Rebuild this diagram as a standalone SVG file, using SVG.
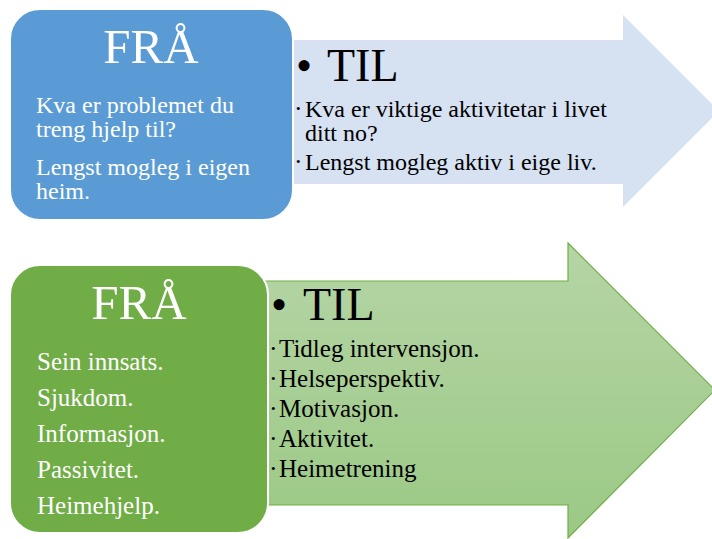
<svg xmlns="http://www.w3.org/2000/svg" width="712" height="539" viewBox="0 0 712 539">
<defs>
<linearGradient id="gg" x1="0" y1="0" x2="0" y2="1">
<stop offset="0" stop-color="#B5D5A5"/>
<stop offset="1" stop-color="#9BC985"/>
</linearGradient>
<style>
text{font-family:"Liberation Serif","Times New Roman",serif}
.hd{font-size:49px;fill:#fff;text-anchor:middle}
.til{font-size:46px;fill:#000}
.w{font-size:25px;fill:#fff}
.b{font-size:25px;fill:#000}
.t{font-size:24px}
.bl{font-size:13px}
</style>
</defs>
<rect width="712" height="539" fill="#fff"/>
<g id="arrow-top">
<polygon points="288,40 623,40 623,15 719,111 623,207 623,184 288,184" fill="#D6E1F2"/>
<text class="til" y="81"><tspan x="296">•</tspan><tspan x="327">TIL</tspan></text>
<text class="b t" y="117"><tspan class="bl" x="296" dy="-4">•</tspan><tspan x="305" dy="4">Kva er viktige aktivitetar i livet</tspan></text>
<text class="b t" x="305" y="141">ditt no?</text>
<text class="b t" y="170"><tspan class="bl" x="296" dy="-4">•</tspan><tspan x="305" dy="4">Lengst mogleg aktiv i eige liv.</tspan></text>
</g>
<g id="box-top">
<rect x="10" y="9" width="283" height="211" rx="30" ry="30" fill="#5B9BD5" stroke="#fff" stroke-width="2"/>
<text class="hd" x="151" y="63">FRÅ</text>
<text class="w t" x="36" y="113">Kva er problemet du</text>
<text class="w t" x="36" y="137">treng hjelp til?</text>
<text class="w t" x="36" y="175">Lengst mogleg i eigen</text>
<text class="w t" x="36" y="199">heim.</text>
</g>
<g id="arrow-bottom">
<polygon points="264,281 568,281 568,243 715,390 568,538 568,505 264,505" fill="url(#gg)" stroke="#70AD47" stroke-width="1.2"/>
<text class="til" y="320"><tspan x="271">•</tspan><tspan x="303">TIL</tspan></text>
<text class="b" y="357"><tspan class="bl" x="271" dy="-4">•</tspan><tspan x="279" dy="4">Tidleg intervensjon.</tspan></text>
<text class="b" y="387"><tspan class="bl" x="271" dy="-4">•</tspan><tspan x="279" dy="4">Helseperspektiv.</tspan></text>
<text class="b" y="417"><tspan class="bl" x="271" dy="-4">•</tspan><tspan x="279" dy="4">Motivasjon.</tspan></text>
<text class="b" y="447"><tspan class="bl" x="271" dy="-4">•</tspan><tspan x="279" dy="4">Aktivitet.</tspan></text>
<text class="b" y="477"><tspan class="bl" x="271" dy="-4">•</tspan><tspan x="279" dy="4">Heimetrening</tspan></text>
</g>
<g id="box-bottom">
<rect x="10" y="265" width="258" height="268" rx="30" ry="30" fill="#70AD47" stroke="#fff" stroke-width="2"/>
<text class="hd" x="139" y="319">FRÅ</text>
<text class="w" x="37" y="370">Sein innsats.</text>
<text class="w" x="37" y="406">Sjukdom.</text>
<text class="w" x="37" y="442">Informasjon.</text>
<text class="w" x="37" y="478">Passivitet.</text>
<text class="w" x="37" y="514">Heimehjelp.</text>
</g>
<g id="connectors"></g>
</svg>
